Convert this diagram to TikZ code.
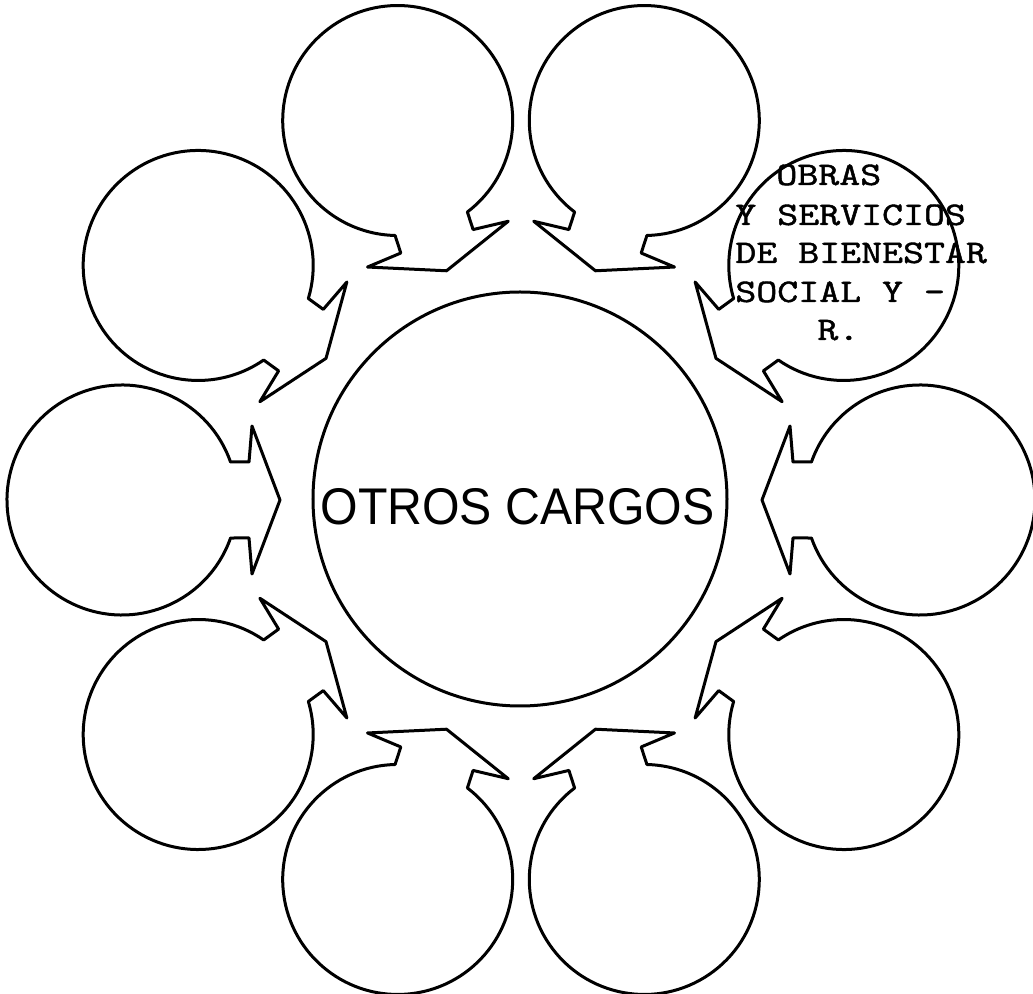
\documentclass[tikz,border=0pt]{standalone}
\usepackage{graphicx}
\usepackage{fontspec}
\newfontfamily\labelsans{Liberation Sans}
\newfontfamily\typew{lmmono10-regular.otf}[FakeBold=1.2]
\newcommand\typedtext[1]{\scalebox{1.21}[1]{#1}}
\begin{document}
\begin{tikzpicture}[x=0.5pt,y=0.5pt,
  outline/.style={line width=1.5pt, line join=round, draw=black},
  typeline/.style={anchor=base west, inner sep=0pt, font=\typew\fontsize{16.5pt}{20pt}\selectfont},
  bigtext/.style={anchor=base, inner sep=0pt, font=\labelsans\fontsize{25.8pt}{30pt}\selectfont}]
\useasboundingbox (-521,-494) rectangle (512,500);
% central circle
\node[outline, circle, minimum size=207pt, inner sep=0pt] (hub) at (-1,1) {};
\node[bigtext] (otros) at (-3.5,-25) {\scalebox{0.935}[1]{OTROS CARGOS}};
% ten speech bubbles with arrowheads pointing to the hub
\foreach \k in {0,...,9} {
  \pgfmathsetmacro\ang{36*\k}
  \coordinate (c\k) at (\ang:399);
  \begin{scope}[shift={(c\k)}, rotate=\ang+180]
    \draw[outline] (19.3:115) arc[start angle=19.3, end angle=340.7, radius=115]
      -- (127,-38) -- (130,-74) -- (158,0) -- (130,74) -- (127,38) -- cycle;
  \end{scope}
}
% typed label in the upper-right bubble
\node[typeline] (t1) at (255,315) {\typedtext{OBRAS}};
\node[typeline] (t2) at (214,275) {\typedtext{Y SERVICIOS}};
\node[typeline] (t3) at (214,237) {\typedtext{DE BIENESTAR}};
\node[typeline] (t4) at (214,198) {\typedtext{SOCIAL Y -}};
\node[typeline] (t5) at (296,160) {\typedtext{R.}};
\end{tikzpicture}
\end{document}
